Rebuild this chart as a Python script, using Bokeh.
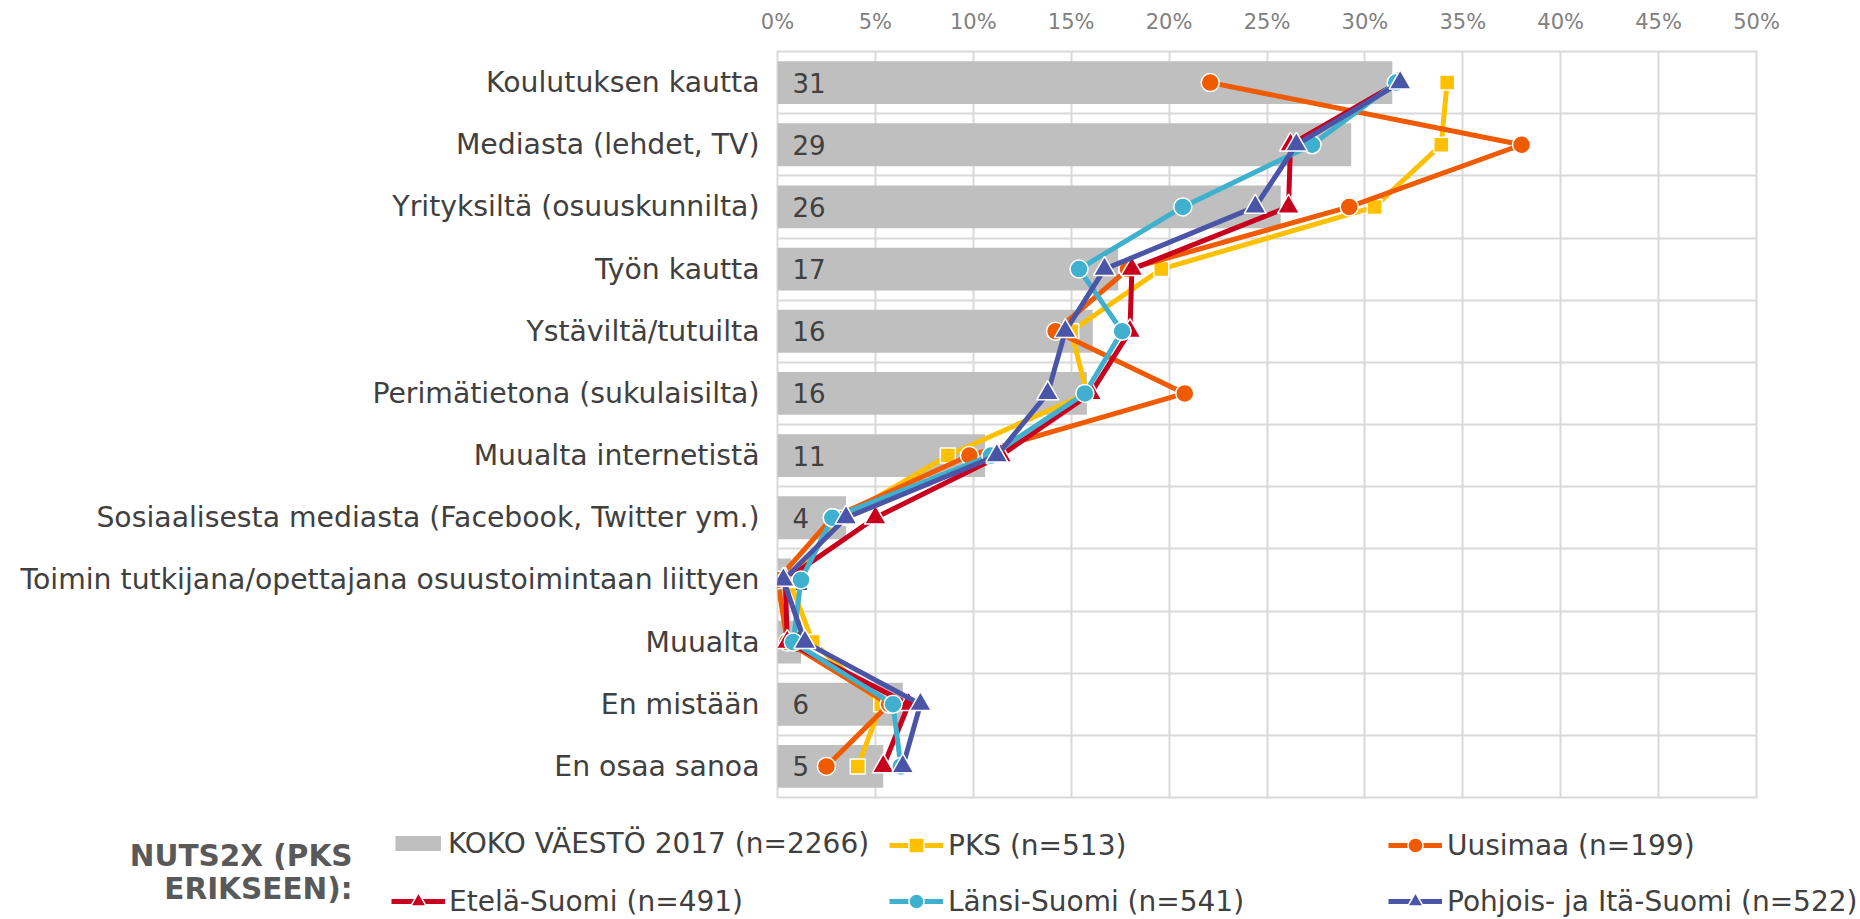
from bokeh.plotting import figure
from bokeh.layouts import column
from bokeh.models import Range1d, FixedTicker, Legend, LegendItem, Label
from bokeh.core.properties import value
from bokeh.embed import file_html
from bokeh.resources import INLINE

# ---------------- data ----------------
categories = [
    "Koulutuksen kautta",
    "Mediasta (lehdet, TV)",
    "Yrityksiltä (osuuskunnilta)",
    "Työn kautta",
    "Ystäviltä/tutuilta",
    "Perimätietona (sukulaisilta)",
    "Muualta internetistä",
    "Sosiaalisesta mediasta (Facebook, Twitter ym.)",
    "Toimin tutkijana/opettajana osuustoimintaan liittyen",
    "Muualta",
    "En mistään",
    "En osaa sanoa",
]
koko = [31.4, 29.3, 25.7, 17.4, 16.1, 15.8, 10.6, 3.5, 0.7, 1.2, 6.4, 5.4]
koko_labels = ["31", "29", "26", "17", "16", "16", "11", "4", "1", "1", "6", "5"]

pks = [34.2, 33.9, 30.5, 19.6, 15.0, 15.8, 8.7, 3.3, 0.6, 1.8, 5.3, 4.1]
uusimaa = [22.1, 38.0, 29.2, 17.9, 14.2, 20.8, 9.8, 2.8, 0.0, 0.5, 5.7, 2.5]
etela = [31.7, 26.2, 26.1, 18.1, 18.0, 16.0, 11.4, 5.0, 0.4, 0.5, 6.7, 5.4]
lansi = [31.6, 27.3, 20.7, 15.4, 17.6, 15.7, 10.9, 2.8, 1.2, 0.8, 5.9, 6.3]
pohjois = [31.8, 26.5, 24.4, 16.7, 14.7, 13.8, 11.2, 3.5, 0.3, 1.4, 7.3, 6.4]

series_names = ["PKS (n=513)", "Uusimaa (n=199)", "Etelä-Suomi (n=491)",
                "Länsi-Suomi (n=541)", "Pohjois- ja Itä-Suomi (n=522)"]
series_values = [pks, uusimaa, etela, lansi, pohjois]
koko_name = "KOKO VÄESTÖ 2017 (n=2266)"
legend_title = ["NUTS2X (PKS", "ERIKSEEN):"]

x_ticks = [0, 5, 10, 15, 20, 25, 30, 35, 40, 45, 50]
x_tick_labels = ["0%", "5%", "10%", "15%", "20%", "25%", "30%", "35%", "40%", "45%", "50%"]

# ---------------- styles ----------------
FONT = "DejaVu Sans"
BAR_COLOR = "#BFBFBF"
series_colors = ["#FFC000", "#F05A00", "#C8001E", "#3FB1CE", "#4A55A8"]
series_markers = ["square", "circle", "triangle", "circle", "triangle"]
series_sizes = [15, 18, 22, 18, 22]
LINE_W = 5

W = 1860
FRAME_L, FRAME_R, FRAME_T, FRAME_B = 777, 1756, 51, 797
TOP_H = FRAME_B + 2
BOT_H = 919 - TOP_H

p = figure(width=W, height=TOP_H,
           x_range=Range1d(0, 50), y_range=Range1d(12, 0),
           x_axis_location="above",
           output_backend="svg", toolbar_location=None,
           min_border_left=FRAME_L, min_border_right=W - FRAME_R,
           min_border_top=FRAME_T, min_border_bottom=2)
p.frame_align = False
p.outline_line_color = "#D9D9D9"
p.outline_line_width = 2

centers = [i + 0.5 for i in range(len(categories))]

# grid
p.xgrid.ticker = FixedTicker(ticks=x_ticks)
p.ygrid.ticker = FixedTicker(ticks=list(range(len(categories) + 1)))
for g in (p.xgrid, p.ygrid):
    g.grid_line_color = "#D9D9D9"
    g.grid_line_width = 2

# axes
xa = p.xaxis[0]
xa.ticker = FixedTicker(ticks=x_ticks)
xa.major_label_overrides = {t: l for t, l in zip(x_ticks, x_tick_labels)}
xa.major_label_text_font = FONT
xa.major_label_text_font_size = "21px"
xa.major_label_text_color = "#808080"
xa.major_label_standoff = 18
xa.axis_line_color = None
xa.major_tick_line_color = None
xa.minor_tick_line_color = None
xa.major_tick_out = 0
xa.major_tick_in = 0

ya = p.yaxis[0]
ya.ticker = FixedTicker(ticks=centers)
ya.major_label_overrides = {c: n for c, n in zip(centers, categories)}
ya.major_label_text_font = FONT
ya.major_label_text_font_size = "28.3px"
ya.major_label_text_color = "#404040"
ya.major_label_standoff = 18
ya.axis_line_color = None
ya.major_tick_line_color = None
ya.minor_tick_line_color = None
ya.major_tick_out = 0
ya.major_tick_in = 0

# bars
p.hbar(y=centers, left=0, right=koko, height=0.69,
       fill_color=BAR_COLOR, line_color=None)
p.text(x=[0] * len(koko), y=centers, text=koko_labels, x_offset=15,
       text_baseline="middle", text_align="left",
       text_font=value(FONT), text_font_size="26px", text_color="#404040")

# lines
for vals, col, mk, sz in zip(series_values, series_colors, series_markers, series_sizes):
    p.line(vals, centers, line_color=col, line_width=LINE_W)
    p.scatter(vals, centers, marker=mk, size=sz, fill_color=col,
              line_color="white", line_width=1.5)

# ---------------- legend strip ----------------
q = figure(width=W, height=BOT_H, x_range=Range1d(0, W), y_range=Range1d(0, BOT_H),
           x_axis_location=None, y_axis_location=None,
           output_backend="svg", toolbar_location=None,
           min_border_left=0, min_border_right=0, min_border_top=0, min_border_bottom=0)
q.frame_align = False
q.outline_line_color = None
q.xgrid.visible = False
q.ygrid.visible = False

# legend sample renderers, placed outside the visible range
OFF = [-1000]
leg_bar = q.line(x=OFF * 2, y=OFF * 2, line_color=BAR_COLOR, line_width=15, line_cap="butt")
leg_series = []
for col, mk, sz in zip(series_colors, series_markers, series_sizes):
    lr = q.line(x=OFF * 2, y=OFF * 2, line_color=col, line_width=LINE_W)
    sr = q.scatter(x=OFF, y=OFF, marker=mk, size=sz, fill_color=col,
                   line_color="white", line_width=1.5)
    leg_series.append([lr, sr])

PAGE_BOTTOM = 919


def add_leg(label, rends, glyph_x0, row_y, gw, gh, standoff):
    leg = Legend(items=[LegendItem(label=label, renderers=rends)],
                 location=(glyph_x0, PAGE_BOTTOM - (row_y + gh / 2)),
                 padding=0, margin=0, spacing=0,
                 border_line_color=None, background_fill_alpha=0,
                 glyph_width=gw, glyph_height=gh, label_height=gh,
                 label_standoff=standoff,
                 label_text_font=FONT, label_text_font_size="28px",
                 label_text_color="#404040")
    q.add_layout(leg)


row1, row2 = 845, 901
add_leg(koko_name, [leg_bar], 395, row1 - 2, 46, 38, 7)
add_leg(series_names[0], leg_series[0], 889, row1, 54, 38, 5)
add_leg(series_names[1], leg_series[1], 1388, row1, 54, 38, 5)
add_leg(series_names[2], leg_series[2], 391, row2, 54, 38, 4)
add_leg(series_names[3], leg_series[3], 889, row2, 54, 38, 5)
add_leg(series_names[4], leg_series[4], 1388, row2, 54, 38, 5)

for txt, yy in zip(legend_title, [855, 888]):
    q.add_layout(Label(x=352, y=PAGE_BOTTOM - yy, x_units="screen", y_units="screen",
                       text=txt, text_align="right", text_baseline="middle",
                       text_font=FONT, text_font_size="29.5px", text_font_style="bold",
                       text_color="#595959"))

layout = column(p, q, spacing=0)
open("out.html", "w").write(file_html(layout, INLINE))
